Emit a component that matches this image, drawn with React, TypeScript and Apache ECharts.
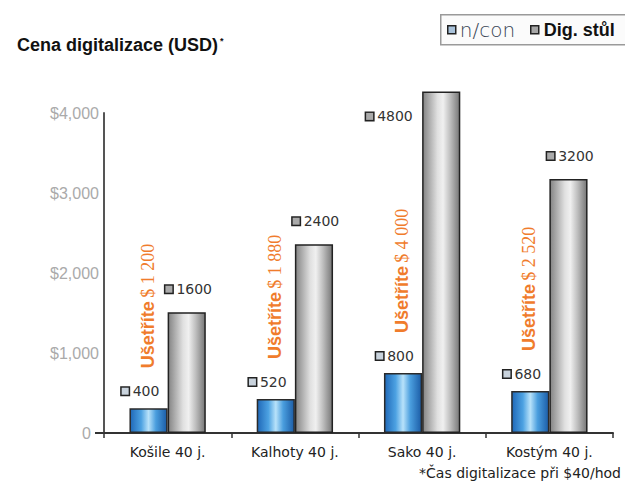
import React, { useEffect, useRef } from "react";
import * as echarts from "echarts";

// ---- data ----
const categories = ["Košile 40 j.", "Kalhoty 40 j.", "Sako 40 j.", "Kostým 40 j."];
// bar heights as drawn in the reference (the picture is not to scale with its labels)
const nsconBars = [310, 425, 750, 525];
const digBars = [1510, 2360, 4270, 3175];
// values printed next to the bars
const nsconLabels = [400, 520, 800, 680];
const digLabels = [1600, 2400, 4800, 3200];
// savings texts
const savingsLabels = ["$ 1 200", "$ 1 880", "$ 4 000", "$ 2 520"];
const yMax = 4000;
const yInterval = 1000;

const W = 625;
const H = 483;
const GRID_LEFT = 104;
const GRID_RIGHT = 12;
const GRID_TOP = 113;
const GRID_BOTTOM = 50;

const SANS = '"Liberation Sans", Arial, sans-serif';
const DJ = '"DejaVu Sans", Verdana, sans-serif';
const SERIF = '"Liberation Serif", "Times New Roman", serif';
const ORANGE = "#f07c2c";

export default function App() {
  const ref = useRef<HTMLDivElement>(null);

  useEffect(() => {
    if (!ref.current) return;
    const chart = echarts.init(ref.current, undefined, { renderer: "svg" });

    const blueGrad = new echarts.graphic.LinearGradient(0, 0, 1, 0, [
      { offset: 0, color: "#1f68b8" },
      { offset: 0.3, color: "#4da2e2" },
      { offset: 0.5, color: "#b8e2fa" },
      { offset: 0.7, color: "#4a9ede" },
      { offset: 1, color: "#1b5ca6" },
    ]);
    const grayGrad = new echarts.graphic.LinearGradient(0, 0, 1, 0, [
      { offset: 0, color: "#848484" },
      { offset: 0.4, color: "#e0e0e0" },
      { offset: 0.55, color: "#f0f0f0" },
      { offset: 0.75, color: "#bdbdbd" },
      { offset: 1, color: "#777777" },
    ]);

    const labelRich = (fill: string) => ({
      sq: {
        width: 7,
        height: 7,
        backgroundColor: fill,
        borderColor: "#222",
        borderWidth: 1.5,
      },
      v: {
        fontFamily: DJ,
        fontSize: 14,
        color: "#333",
        padding: [0, 0, 0, 4],
      },
    });

    const digData = digBars.map((v, i) =>
      v > yMax
        ? {
            value: v,
            label: { position: [-58, 18] },
          }
        : v
    );

    chart.setOption({
      animation: false,
      backgroundColor: "#ffffff",
      title: {
        text: "{t|Cena digitalizace (USD)}{s|*}",
        left: 12,
        top: 31,
        textStyle: {
          rich: {
            t: { fontFamily: SANS, fontSize: 18, fontWeight: "bold", color: "#111" },
            s: { fontFamily: SANS, fontSize: 9, color: "#111", verticalAlign: "top", padding: [0, 0, 0, 2] },
          },
        },
      },
      grid: {
        left: GRID_LEFT,
        right: GRID_RIGHT,
        top: GRID_TOP,
        bottom: GRID_BOTTOM,
        containLabel: false,
      },
      xAxis: {
        type: "category",
        data: categories,
        axisLine: { lineStyle: { color: "#333", width: 2 } },
        axisTick: { show: true, length: 5, lineStyle: { color: "#333", width: 1.5 } },
        axisLabel: { fontFamily: DJ, fontSize: 14, color: "#222", margin: 12 },
      },
      yAxis: {
        type: "value",
        min: 0,
        max: yMax,
        interval: yInterval,
        splitLine: { show: false },
        axisLine: { show: true, lineStyle: { color: "#555", width: 2 } },
        axisTick: { show: false },
        axisLabel: {
          fontFamily: SANS,
          fontSize: 16,
          color: "#aaaaaa",
          margin: 5,
          formatter: (v: number) => (v === 0 ? "{z|0}" : "$" + v.toLocaleString("en-US")),
          rich: {
            z: { fontFamily: SANS, fontSize: 16, color: "#aaaaaa", padding: [0, 8, 0, 0] },
          },
        },
      },
      series: [
        {
          name: "n/con",
          type: "bar",
          data: nsconBars,
          barWidth: "30%",
          barGap: "0%",
          clip: false,
          itemStyle: { color: blueGrad, borderColor: "#2a2a2a", borderWidth: 1.5 },
          label: {
            show: true,
            position: "top",
            distance: 10,
            offset: [-8, 0],
            formatter: (p: any) => `{sq| }{v|${nsconLabels[p.dataIndex]}}`,
            rich: labelRich("#c9d3dd"),
          },
        },
        {
          name: "Dig. stůl",
          type: "bar",
          data: digData,
          barWidth: "30%",
          barGap: "0%",
          clip: false,
          itemStyle: { color: grayGrad, borderColor: "#222", borderWidth: 1.5 },
          label: {
            show: true,
            position: "top",
            distance: 16,
            offset: [2, 0],
            formatter: (p: any) => `{sq| }{v|${digLabels[p.dataIndex]}}`,
            rich: labelRich("#aaaaaa"),
          },
        },
        {
          name: "savings",
          type: "custom",
          data: categories.map((_, i) => [i, nsconBars[i]]),
          z: 5,
          renderItem: (params: any, api: any) => {
            const pt = api.coord([api.value(0), api.value(1)]);
            const band = api.size([1, 0])[0];
            const x = pt[0] - band * 0.15 - 1;
            const y = pt[1] - 40;
            return {
              type: "text",
              x,
              y,
              rotation: Math.PI / 2,
              style: {
                text: `{a|Ušetříte} {b|${savingsLabels[params.dataIndex]}}`,
                align: "left",
                verticalAlign: "middle",
                rich: {
                  a: { fontFamily: SANS, fontSize: 18, fontWeight: "bold", fill: ORANGE, color: ORANGE },
                  b: { fontFamily: SERIF, fontSize: 18, fill: ORANGE, color: ORANGE },
                },
              },
            };
          },
        },
      ],
      graphic: [
        {
          type: "line",
          shape: { x1: GRID_LEFT - 9, y1: H - GRID_BOTTOM, x2: GRID_LEFT, y2: H - GRID_BOTTOM },
          style: { stroke: "#333", lineWidth: 2 },
        },
        {
          type: "group",
          left: 440,
          top: 14,
          children: [
            {
              type: "rect",
              shape: { x: 0, y: 0, width: 200, height: 30 },
              style: { fill: "#fbfbfb", stroke: "#9a9a9a", lineWidth: 1.5 },
            },
            {
              type: "rect",
              shape: { x: 7, y: 11, width: 8, height: 8 },
              style: { fill: "#a9c2da", stroke: "#222", lineWidth: 1.5 },
            },
            {
              type: "text",
              x: 19,
              y: 15,
              style: {
                text: "n/con",
                font: `200 20px ${DJ}`,
                fill: "#3a4656",
                verticalAlign: "middle",
              },
            },
            {
              type: "rect",
              shape: { x: 90, y: 11, width: 8, height: 8 },
              style: { fill: "#a6a6a6", stroke: "#222", lineWidth: 1.5 },
            },
            {
              type: "text",
              x: 103,
              y: 15,
              style: {
                text: "Dig. stůl",
                font: `bold 18px ${SANS}`,
                fill: "#111",
                verticalAlign: "middle",
              },
            },
          ],
        },
        {
          type: "text",
          right: 4,
          top: 466,
          style: {
            text: "*Čas digitalizace při $40/hod",
            font: `14px ${DJ}`,
            fill: "#222",
          },
        },
      ],
    });

    return () => chart.dispose();
  }, []);

  return (
    <div
      ref={ref}
      style={{ position: "absolute", left: 0, top: 0, width: W, height: H, background: "#fff" }}
    />
  );
}
